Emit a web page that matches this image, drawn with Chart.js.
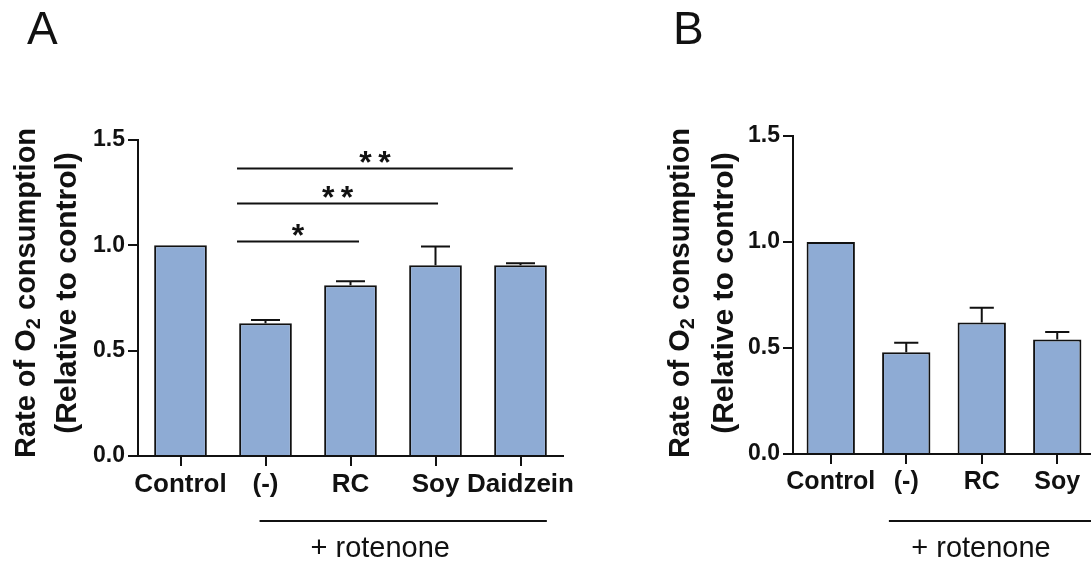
<!DOCTYPE html>
<html>
<head>
<meta charset="utf-8">
<script src="https://cdn.jsdelivr.net/npm/chart.js@4.4.1/dist/chart.umd.min.js"></script>
<style>
  html, body { margin: 0; padding: 0; background: #fff; overflow: hidden; }
  body { width: 1091px; height: 561px; position: relative; }
  canvas { position: absolute; top: 0; }
  #chartA { left: 0; }
  #chartB { left: 600px; }
</style>
</head>
<body>
<canvas id="chartA" width="610" height="561"></canvas>
<canvas id="chartB" width="600" height="561"></canvas>
<script>
// panel A
const labelsA = ['Control', '(-)', 'RC', 'Soy', 'Daidzein'];
const meansA = [1.0, 0.63, 0.81, 0.905, 0.905];
const errorsA = [0, 0.015, 0.02, 0.09, 0.01];
// significance brackets in panel A: star text, y level
const sigLabelsA = ['*', '**', '**'];
const sigLevelsA = [1.02, 1.2, 1.365];

// panel B
const labelsB = ['Control', '(-)', 'RC', 'Soy'];
const meansB = [1.0, 0.48, 0.62, 0.54];
const errorsB = [0, 0.045, 0.07, 0.035];

const yTicks = [0, 0.5, 1.0, 1.5];

const BAR_FILL = '#8eabd4';
const INK = '#111';
const FONT = '"Liberation Sans", Arial, sans-serif';

function drawYTitle(ctx, x1, x2, yMid) {
    ctx.save();
    ctx.fillStyle = INK;
    ctx.textBaseline = 'middle';
    // line 1 with subscript 2
    const big = `bold 29px ${FONT}`;
    const small = `bold 20px ${FONT}`;
    const parts = [['Rate of O', big, 0], ['2', small, 7], [' consumption', big, 0]];
    let total = 0;
    parts.forEach(([t, f]) => { ctx.font = f; total += ctx.measureText(t).width; });
    ctx.translate(x1, yMid);
    ctx.rotate(-Math.PI / 2);
    let pos = -total / 2;
    ctx.textAlign = 'left';
    parts.forEach(([t, f, dy]) => {
        ctx.font = f;
        ctx.fillText(t, pos, dy);
        pos += ctx.measureText(t).width;
    });
    ctx.restore();

    ctx.save();
    ctx.fillStyle = INK;
    ctx.font = `bold 30px ${FONT}`;
    ctx.textAlign = 'center';
    ctx.textBaseline = 'middle';
    ctx.translate(x2, yMid);
    ctx.rotate(-Math.PI / 2);
    ctx.fillText('(Relative to control)', 0, 0);
    ctx.restore();
}

const decorPlugin = {
    id: 'decor',
    afterDatasetsDraw(chart, args, opts) {
        const { ctx, scales: { x, y } } = chart;
        const meta = chart.getDatasetMeta(0);
        ctx.save();
        ctx.strokeStyle = INK;
        ctx.lineWidth = 2;
        // error bars (upper only)
        opts.errors.forEach((err, i) => {
            if (!err) return;
            const bar = meta.data[i];
            const top = y.getPixelForValue(opts.means[i]);
            const cap = y.getPixelForValue(opts.means[i] + err);
            const half = bar.width * opts.capRatio / 2;
            ctx.beginPath();
            ctx.moveTo(bar.x, top);
            ctx.lineTo(bar.x, cap);
            ctx.moveTo(bar.x - half, cap);
            ctx.lineTo(bar.x + half, cap);
            ctx.stroke();
        });
        // significance lines
        (opts.sig || []).forEach((s) => {
            const ly = Math.round(y.getPixelForValue(s.level)) + 0.5;
            const x0 = x.getPixelForValue(s.from);
            const x1 = x.getPixelForValue(s.to);
            ctx.beginPath();
            ctx.moveTo(x0, ly);
            ctx.lineTo(x1, ly);
            ctx.stroke();
            ctx.fillStyle = INK;
            ctx.font = `bold 32px ${FONT}`;
            ctx.textAlign = 'center';
            ctx.textBaseline = 'alphabetic';
            ctx.fillText(s.label.split('').join('\u2009'), (x0 + x1) / 2, ly + 4);
        });
        ctx.restore();
    },
    afterDraw(chart, args, opts) {
        const { ctx, scales: { x } } = chart;
        ctx.save();
        // rotenone bracket
        ctx.strokeStyle = INK;
        ctx.lineWidth = 2;
        ctx.beginPath();
        ctx.moveTo(x.getPixelForValue(opts.rotFrom), 521);
        ctx.lineTo(x.getPixelForValue(opts.rotTo), 521);
        ctx.stroke();
        ctx.fillStyle = INK;
        ctx.font = `29px ${FONT}`;
        ctx.textAlign = 'center';
        ctx.textBaseline = 'alphabetic';
        ctx.fillText('+ rotenone', x.getPixelForValue(opts.rotText), 557);
        // panel letter
        ctx.font = `46px ${FONT}`;
        ctx.textAlign = 'left';
        ctx.fillText(opts.letter, opts.letterX, 44);
        // y title
        drawYTitle(ctx, opts.titleX1, opts.titleX2, opts.titleY);
        ctx.restore();
    }
};

function makeChart(id, labels, means, decor, geom) {
    return new Chart(document.getElementById(id), {
        type: 'bar',
        data: {
            labels,
            datasets: [{
                data: means,
                backgroundColor: BAR_FILL,
                borderColor: INK,
                borderWidth: 2,
                borderSkipped: 'bottom',
                categoryPercentage: 1,
                barPercentage: geom.barPct
            }]
        },
        options: {
            responsive: false,
            animation: false,
            devicePixelRatio: 1,
            layout: { padding: { left: 0, top: geom.top, right: geom.right, bottom: 0 } },
            plugins: {
                legend: { display: false },
                tooltip: { enabled: false },
                decor
            },
            scales: {
                x: {
                    offset: true,
                    afterFit(s) { s.height = geom.xHeight; },
                    border: { display: true, color: INK, width: 2 },
                    grid: { display: true, offset: false, drawOnChartArea: false, drawTicks: true, tickLength: 10, color: INK, lineWidth: 2 },
                    ticks: { color: INK, padding: 3, maxRotation: 0, autoSkip: false, font: { family: FONT, weight: 'bold', size: geom.xFont } }
                },
                y: {
                    min: 0,
                    max: 1.5,
                    afterFit(s) { s.width = geom.yWidth; },
                    afterBuildTicks(s) { s.ticks = yTicks.map(v => ({ value: v })); },
                    border: { display: true, color: INK, width: 2 },
                    grid: { display: true, drawOnChartArea: false, drawTicks: true, tickLength: 10, color: INK, lineWidth: 2 },
                    ticks: {
                        color: INK,
                        padding: 3,
                        font: { family: FONT, weight: 'bold', size: 23 },
                        callback: v => Number(v).toFixed(1)
                    }
                }
            }
        },
        plugins: [decorPlugin]
    });
}

makeChart('chartA', labelsA, meansA, {
    means: meansA,
    errors: errorsA,
    capRatio: 0.55,
    sig: sigLabelsA.map((label, i) => ({ label, level: sigLevelsA[i], from: 0.665, to: [2.1, 3.03, 3.91][i] })),
    rotFrom: 0.93, rotTo: 4.31, rotText: 2.35,
    letter: 'A', letterX: 27,
    titleX1: 27, titleX2: 68, titleY: 293
}, { barPct: 0.62, top: 140, right: 47, xHeight: 105, yWidth: 138, xFont: 26 });

makeChart('chartB', labelsB, meansB, {
    means: meansB,
    errors: errorsB,
    capRatio: 0.5,
    sig: [],
    rotFrom: 0.77, rotTo: 4.5, rotText: 1.99,
    letter: 'B', letterX: 73,
    titleX1: 81, titleX2: 125, titleY: 293
}, { barPct: 0.64, top: 136, right: 105, xHeight: 107, yWidth: 193, xFont: 25 });
</script>
</body>
</html>
